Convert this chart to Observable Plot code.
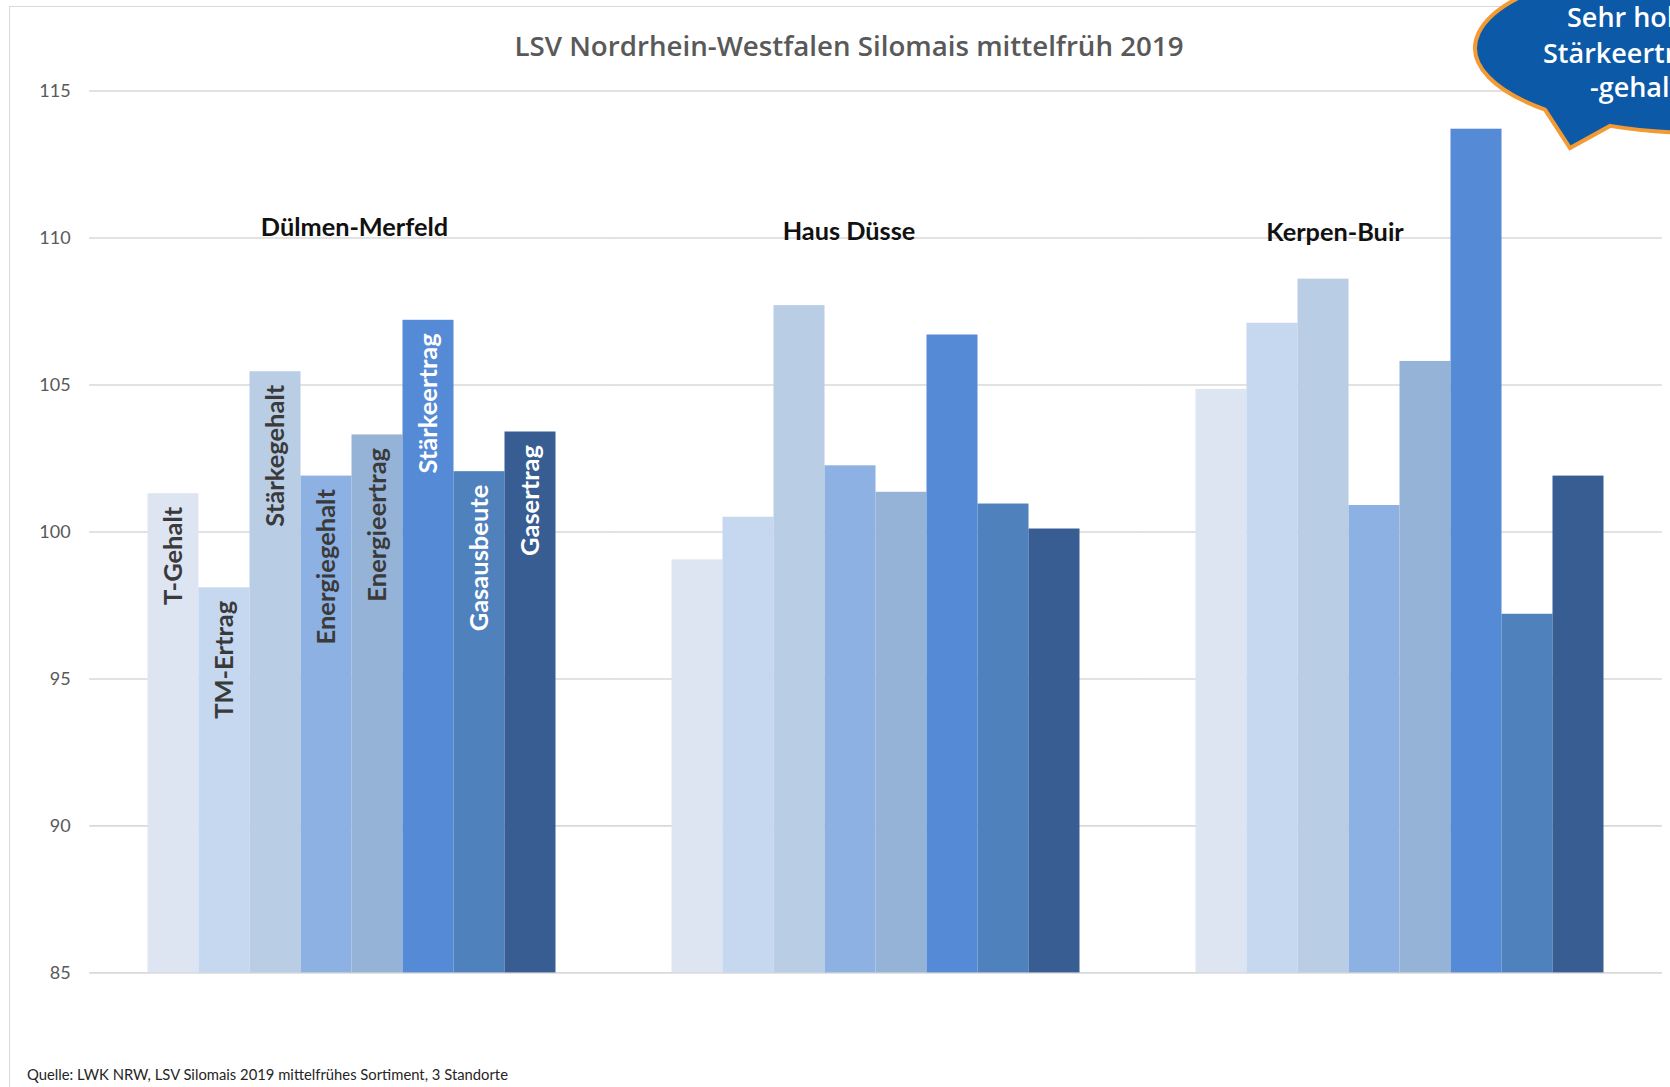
<!DOCTYPE html>
<html>
<head>
<meta charset="utf-8">
<script src="https://cdn.jsdelivr.net/npm/d3@7"></script>
<script src="https://cdn.jsdelivr.net/npm/@observablehq/plot@0.6"></script>
<style>
  html, body { margin: 0; padding: 0; background: #fff; }
  #wrap { position: relative; width: 1670px; height: 1087px; overflow: hidden; font-family: Lato, "Open Sans", sans-serif; }
  #frame { position: absolute; left: 9px; top: 6px; width: 1720px; height: 1120px; border-left: 1.5px solid #d9d9d9; border-top: 1.5px solid #d9d9d9; }
  #title { position: absolute; left: 0; top: 28px; width: 1698px; text-align: center; font-family: "Open Sans", sans-serif; font-size: 27.7px; line-height: 34px; font-weight: 600; color: #595959; }
  #chart { position: absolute; left: 0; top: 60px; }
  #caption { position: absolute; left: 27px; top: 1065px; font-size: 14.8px; line-height: 18px; color: #262626; }
  #bubble { position: absolute; left: 0; top: 0; pointer-events: none; }
</style>
</head>
<body>
<div id="wrap">
  <div id="frame"></div>
  <div id="title">LSV Nordrhein-Westfalen Silomais mittelfrüh 2019</div>
  <div id="chart"></div>
  <div id="caption">Quelle: LWK NRW, LSV Silomais 2019 mittelfrühes Sortiment, 3 Standorte</div>
  <svg id="bubble" width="1670" height="200" viewBox="0 0 1670 200">
    <path d="M1545,109.6 L1570,148 L1610,125.9 A225,85 0 1,0 1545,109.6 Z" fill="#0c59a7" stroke="#f39a33" stroke-width="4" stroke-linejoin="miter"/>
    <g font-family="'Open Sans', sans-serif" font-size="27" font-weight="600" fill="#ffffff">
      <text x="1567" y="27">Sehr hoher</text>
      <text x="1543" y="63">Stärkeertrag und</text>
      <text x="1590" y="97">-gehalt</text>
    </g>
  </svg>
</div>
<script>
// ---- data ----
const locations = ["Dülmen-Merfeld", "Haus Düsse", "Kerpen-Buir"];
const metrics = ["T-Gehalt", "TM-Ertrag", "Stärkegehalt", "Energiegehalt", "Energieertrag", "Stärkeertrag", "Gasausbeute", "Gasertrag"];
const duelmenMerfeld = [101.3, 98.1, 105.45, 101.9, 103.3, 107.2, 102.05, 103.4];
const hausDuesse     = [99.05, 100.5, 107.7, 102.25, 101.35, 106.7, 100.95, 100.1];
const kerpenBuir     = [104.85, 107.1, 108.6, 100.9, 105.8, 113.7, 97.2, 101.9];
const yTicks = [85, 90, 95, 100, 105, 110, 115];
const colors = ["#dde5f3", "#c6d8f0", "#b9cde5", "#8db1e2", "#95b3d7", "#558ad6", "#4f81bd", "#375d93"];

const series = [duelmenMerfeld, hausDuesse, kerpenBuir];
const data = [];
locations.forEach((loc, i) => metrics.forEach((m, j) => data.push({location: loc, metric: m, value: series[i][j]})));

const yBase = yTicks[0];
const whiteLabels = new Set(["Stärkeertrag", "Gasausbeute", "Gasertrag"]);
// annotation placement of the location labels (y in data units, x offset in px)
const groupLabelPlacement = [{y: 110.36, dx: 2.5}, {y: 110.22, dx: -27}, {y: 110.16, dx: -65}];

const chart = Plot.plot({
  width: 1670,
  height: 945,
  marginLeft: 89.5,
  marginRight: 8,
  marginTop: 30.5,
  marginBottom: 32.6,
  style: {fontFamily: "Lato, 'Open Sans', sans-serif", fontSize: "18px", color: "#595959", background: "transparent", overflow: "visible"},
  fx: {domain: locations, paddingInner: 0.216, paddingOuter: 0.108, axis: null, label: null},
  x: {domain: metrics, padding: 0, axis: null},
  y: {domain: [85, 115], ticks: yTicks, tickSize: 0, tickPadding: 75.8, label: null, tickFormat: d => String(d)},
  color: {domain: metrics, range: colors},
  marks: [
    // gridlines: drawn per facet and stretched across the gaps between the location groups
    Plot.ruleY(yTicks, {stroke: "#d9d9d9", strokeWidth: 1.6, insetLeft: -56.8, insetRight: -56.8}),
    Plot.barY(data, {fx: "location", x: "metric", y1: yBase, y2: "value", fill: "metric"}),
    Plot.text(data.filter(d => d.location === locations[0]), {
      fx: "location", x: "metric", y: "value", text: "metric",
      rotate: -90, textAnchor: "end", dy: 13,
      fill: d => whiteLabels.has(d.metric) ? "#ffffff" : "#3a3a3a",
      fontSize: 25.5, fontWeight: "bold"
    }),
    ...locations.map((loc, i) => Plot.text([loc], {
      fx: d => d, text: d => d, y: groupLabelPlacement[i].y, dx: groupLabelPlacement[i].dx,
      fill: "#111111", fontSize: 25.3, fontWeight: "bold"
    }))
  ]
});
document.getElementById("chart").appendChild(chart);
</script>
</body>
</html>
